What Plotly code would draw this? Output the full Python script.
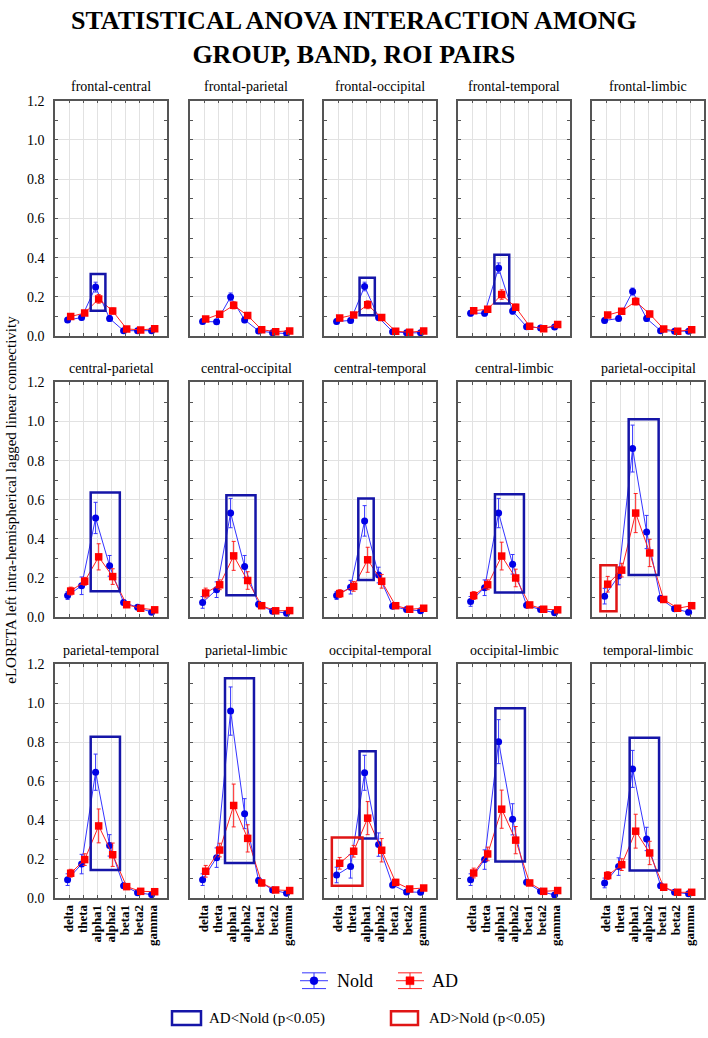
import plotly.graph_objects as go

W, H = 708, 1038

bands = ["delta", "theta", "alpha1", "alpha2", "beta1", "beta2", "gamma"]
pairs = ["frontal-central", "frontal-parietal", "frontal-occipital", "frontal-temporal", "frontal-limbic",
         "central-parietal", "central-occipital", "central-temporal", "central-limbic", "parietal-occipital",
         "parietal-temporal", "parietal-limbic", "occipital-temporal", "occipital-limbic", "temporal-limbic"]

nold_mean = [
    [0.082, 0.095, 0.250, 0.090, 0.028, 0.028, 0.028],
    [0.075, 0.073, 0.200, 0.083, 0.027, 0.018, 0.013],
    [0.075, 0.080, 0.253, 0.095, 0.023, 0.017, 0.017],
    [0.117, 0.117, 0.347, 0.128, 0.048, 0.042, 0.047],
    [0.080, 0.090, 0.227, 0.090, 0.028, 0.025, 0.025],
    [0.110, 0.160, 0.507, 0.262, 0.075, 0.050, 0.025],
    [0.075, 0.140, 0.532, 0.258, 0.065, 0.030, 0.020],
    [0.110, 0.153, 0.492, 0.215, 0.055, 0.038, 0.032],
    [0.080, 0.150, 0.532, 0.270, 0.060, 0.038, 0.022],
    [0.107, 0.210, 0.862, 0.435, 0.095, 0.042, 0.025],
    [0.094, 0.174, 0.646, 0.270, 0.063, 0.027, 0.017],
    [0.094, 0.207, 0.960, 0.433, 0.089, 0.041, 0.024],
    [0.118, 0.162, 0.643, 0.274, 0.067, 0.031, 0.029],
    [0.094, 0.197, 0.803, 0.404, 0.080, 0.034, 0.015],
    [0.077, 0.161, 0.663, 0.303, 0.063, 0.029, 0.021],
]
ad_mean = [
    [0.100, 0.118, 0.190, 0.128, 0.037, 0.032, 0.038],
    [0.087, 0.112, 0.157, 0.105, 0.033, 0.023, 0.027],
    [0.093, 0.108, 0.160, 0.095, 0.025, 0.020, 0.027],
    [0.130, 0.137, 0.212, 0.147, 0.050, 0.038, 0.060],
    [0.108, 0.127, 0.177, 0.113, 0.037, 0.025, 0.033],
    [0.133, 0.183, 0.308, 0.207, 0.063, 0.045, 0.037],
    [0.123, 0.165, 0.313, 0.187, 0.058, 0.032, 0.033],
    [0.120, 0.157, 0.293, 0.183, 0.058, 0.040, 0.045],
    [0.110, 0.165, 0.312, 0.200, 0.062, 0.040, 0.037],
    [0.168, 0.240, 0.532, 0.328, 0.090, 0.045, 0.058],
    [0.127, 0.197, 0.370, 0.222, 0.058, 0.034, 0.032],
    [0.137, 0.246, 0.475, 0.306, 0.077, 0.041, 0.038],
    [0.178, 0.240, 0.410, 0.245, 0.080, 0.046, 0.051],
    [0.128, 0.226, 0.456, 0.297, 0.077, 0.034, 0.038],
    [0.115, 0.171, 0.343, 0.231, 0.055, 0.029, 0.029],
]
nold_err = [
    [0.012, 0.012, 0.025, 0.015, 0.008, 0.006, 0.006],
    [0.012, 0.012, 0.020, 0.014, 0.007, 0.006, 0.006],
    [0.012, 0.012, 0.022, 0.014, 0.007, 0.006, 0.006],
    [0.014, 0.014, 0.026, 0.016, 0.008, 0.007, 0.007],
    [0.012, 0.012, 0.018, 0.014, 0.007, 0.006, 0.006],
    [0.020, 0.045, 0.080, 0.053, 0.012, 0.008, 0.008],
    [0.030, 0.040, 0.075, 0.057, 0.012, 0.008, 0.008],
    [0.020, 0.035, 0.078, 0.040, 0.010, 0.008, 0.008],
    [0.025, 0.040, 0.075, 0.050, 0.010, 0.008, 0.008],
    [0.040, 0.045, 0.120, 0.085, 0.015, 0.010, 0.010],
    [0.030, 0.050, 0.093, 0.055, 0.012, 0.008, 0.008],
    [0.030, 0.050, 0.124, 0.077, 0.015, 0.010, 0.010],
    [0.040, 0.060, 0.090, 0.060, 0.015, 0.010, 0.010],
    [0.030, 0.050, 0.113, 0.080, 0.012, 0.008, 0.008],
    [0.025, 0.045, 0.095, 0.060, 0.012, 0.008, 0.008],
]
ad_err = [
    [0.012, 0.012, 0.022, 0.015, 0.008, 0.006, 0.006],
    [0.012, 0.012, 0.018, 0.014, 0.007, 0.006, 0.006],
    [0.012, 0.012, 0.020, 0.014, 0.007, 0.006, 0.006],
    [0.014, 0.014, 0.024, 0.016, 0.008, 0.007, 0.007],
    [0.012, 0.012, 0.018, 0.014, 0.007, 0.006, 0.006],
    [0.020, 0.020, 0.067, 0.040, 0.012, 0.008, 0.008],
    [0.025, 0.025, 0.074, 0.045, 0.010, 0.008, 0.008],
    [0.020, 0.025, 0.064, 0.035, 0.010, 0.008, 0.008],
    [0.020, 0.025, 0.071, 0.045, 0.010, 0.008, 0.008],
    [0.040, 0.035, 0.100, 0.070, 0.015, 0.010, 0.010],
    [0.020, 0.030, 0.087, 0.060, 0.012, 0.008, 0.008],
    [0.030, 0.035, 0.110, 0.070, 0.015, 0.010, 0.010],
    [0.030, 0.030, 0.085, 0.060, 0.015, 0.010, 0.010],
    [0.025, 0.035, 0.098, 0.070, 0.012, 0.008, 0.008],
    [0.020, 0.030, 0.087, 0.060, 0.012, 0.008, 0.008],
]

# significance boxes: (panel, type, band_from, band_to, value_low, value_high)
sig_boxes = [
    (0, "lt", 1.55, 2.60, 0.130, 0.317),
    (2, "lt", 1.54, 2.63, 0.107, 0.298),
    (3, "lt", 1.60, 2.66, 0.167, 0.415),
    (5, "lt", 1.55, 3.63, 0.132, 0.637),
    (6, "lt", 1.60, 3.68, 0.112, 0.623),
    (7, "lt", 1.45, 2.55, 0.190, 0.607),
    (8, "lt", 1.64, 3.71, 0.125, 0.628),
    (9, "lt", 1.62, 3.76, 0.215, 1.012),
    (9, "gt", -0.40, 0.75, 0.030, 0.265),
    (10, "lt", 1.55, 3.64, 0.144, 0.828),
    (11, "lt", 1.50, 3.57, 0.180, 1.128),
    (12, "lt", 1.54, 2.69, 0.305, 0.753),
    (12, "gt", -0.44, 1.75, 0.063, 0.311),
    (13, "lt", 1.67, 3.78, 0.187, 0.975),
    (14, "lt", 1.69, 3.79, 0.141, 0.823),
]

groups = ["Nold", "AD"]
legend_boxes = ["AD<Nold (p<0.05)", "AD>Nold (p<0.05)"]

SERIF = "Liberation Serif"
BLUE_LINE = "#3535ff"
BLUE_MK = "#0000e6"
RED_LINE = "#ff2020"
RED_MK = "#ff0000"
BOX_BLUE = "#1515a8"
BOX_RED = "#e01515"
FRAME = "#555555"
GRID = "#e2e2e2"

col_px = [(55, 167), (190, 302), (324, 436), (458, 570), (592, 704)]
row_px = [(95, 334), (381, 619), (667, 904)]


def px(x):
    return x / W


def py(y):
    return 1 - y / H


fig = go.Figure()
layout = {}
shapes = []
annotations = []

for k in range(15):
    r, c = divmod(k, 5)
    xn = "x" if k == 0 else f"x{k+1}"
    yn = "y" if k == 0 else f"y{k+1}"
    xk = "xaxis" if k == 0 else f"xaxis{k+1}"
    yk = "yaxis" if k == 0 else f"yaxis{k+1}"
    x0, x1 = col_px[c]
    yt, yb = row_px[r]
    layout[xk] = dict(
        domain=[px(x0), px(x1)], anchor=yn, range=[-1, 7],
        tickvals=list(range(7)), ticktext=[f"<b>{b}</b>" for b in bands],
        showticklabels=(r == 2),
        tickangle=-90, ticks="inside", ticklen=3, tickcolor=FRAME,
        showgrid=True, gridcolor=GRID, gridwidth=1,
        showline=True, linecolor=FRAME, linewidth=1.5, mirror="allticks",
        zeroline=False,
        tickfont=dict(family=SERIF, size=13, color="black"),
    )
    layout[yk] = dict(
        domain=[py(yb), py(yt)], anchor=xn, range=[0, 1.2],
        tickvals=[0, 0.2, 0.4, 0.6, 0.8, 1.0, 1.2], tickformat=".1f",
        showticklabels=(c == 0), ticks="inside", ticklen=3, tickcolor=FRAME,
        minor=dict(dtick=0.1, ticks="inside", ticklen=3, tickcolor=FRAME, showgrid=False),
        showgrid=True, gridcolor=GRID, gridwidth=1,
        showline=True, linecolor=FRAME, linewidth=1.5, mirror="allticks",
        zeroline=False, ticklabelstandoff=6,
        tickfont=dict(family=SERIF, size=14, color="black"),
    )
    xs = list(range(7))
    fig.add_trace(go.Scatter(
        x=[i - 0.1 for i in xs], y=nold_mean[k], xaxis=xn, yaxis=yn,
        mode="lines+markers", showlegend=False, name=groups[0],
        line=dict(color=BLUE_LINE, width=1),
        marker=dict(symbol="circle", size=7, color=BLUE_MK),
        error_y=dict(type="data", array=nold_err[k], color=BLUE_LINE, thickness=1, width=2),
    ))
    fig.add_trace(go.Scatter(
        x=[i + 0.12 for i in xs], y=ad_mean[k], xaxis=xn, yaxis=yn,
        mode="lines+markers", showlegend=False, name=groups[1],
        line=dict(color=RED_LINE, width=1),
        marker=dict(symbol="square", size=7.5, color=RED_MK),
        error_y=dict(type="data", array=ad_err[k], color=RED_LINE, thickness=1, width=2),
    ))
    annotations.append(dict(
        text=pairs[k], x=px((x0 + x1) / 2), y=py(yt - 14), xref="paper", yref="paper",
        showarrow=False, xanchor="center", yanchor="middle",
        font=dict(family=SERIF, size=14, color="black"),
    ))

for (k, kind, b0, b1, v0, v1) in sig_boxes:
    xn = "x" if k == 0 else f"x{k+1}"
    yn = "y" if k == 0 else f"y{k+1}"
    shapes.append(dict(
        type="rect", xref=xn, yref=yn, x0=b0, x1=b1, y0=v0, y1=v1,
        line=dict(color=BOX_BLUE if kind == "lt" else BOX_RED, width=2.5),
        fillcolor="rgba(0,0,0,0)", layer="above",
    ))

# title
annotations.append(dict(
    text="<b>STATISTICAL ANOVA INTERACTION AMONG<br>GROUP, BAND, ROI PAIRS</b>",
    x=0.5, y=py(31), xref="paper", yref="paper", showarrow=False,
    xanchor="center", yanchor="middle", align="center",
    font=dict(family=SERIF, size=26, color="black"),
))
# y axis title
annotations.append(dict(
    text="eLORETA left intra-hemispherical lagged linear connectivity",
    x=px(11), y=py(500), xref="paper", yref="paper", showarrow=False,
    textangle=-90, xanchor="center", yanchor="middle",
    font=dict(family=SERIF, size=15, color="black"),
))

# legend: group symbols
leg_y = 988
for cx, lc, mc, sym, label, tx in [(314, BLUE_LINE, BLUE_MK, "circle", groups[0], 335),
                                   (410, RED_LINE, RED_MK, "square", groups[1], 430)]:
    shapes.append(dict(type="line", xref="paper", yref="paper", x0=px(cx - 14), x1=px(cx + 14),
                       y0=py(leg_y), y1=py(leg_y), line=dict(color=lc, width=1)))
    shapes.append(dict(type="line", xref="paper", yref="paper", x0=px(cx), x1=px(cx),
                       y0=py(leg_y - 8), y1=py(leg_y + 8), line=dict(color=lc, width=1)))
    for dy in (-8, 8):
        shapes.append(dict(type="line", xref="paper", yref="paper", x0=px(cx - 12), x1=px(cx + 12),
                           y0=py(leg_y + dy), y1=py(leg_y + dy), line=dict(color=lc, width=1)))
    shapes.append(dict(type="circle" if sym == "circle" else "rect", xref="paper", yref="paper",
                       x0=px(cx - 4), x1=px(cx + 4), y0=py(leg_y + 4), y1=py(leg_y - 4),
                       fillcolor=mc, line=dict(color=mc, width=0.5)))
    annotations.append(dict(text=label, x=px(tx), y=py(leg_y), xref="paper", yref="paper",
                            showarrow=False, xanchor="left", yanchor="middle",
                            font=dict(family=SERIF, size=18, color="black")))

# legend: box types
for (bx0, bx1, col, label, tx) in [(172, 201, BOX_BLUE, legend_boxes[0], 207),
                                    (391, 418, BOX_RED, legend_boxes[1], 427)]:
    shapes.append(dict(type="rect", xref="paper", yref="paper", x0=px(bx0), x1=px(bx1),
                       y0=py(1033), y1=py(1019), line=dict(color=col, width=2.5),
                       fillcolor="rgba(0,0,0,0)"))
    annotations.append(dict(text=label, x=px(tx), y=py(1026), xref="paper", yref="paper",
                            showarrow=False, xanchor="left", yanchor="middle",
                            font=dict(family=SERIF, size=15, color="black")))

fig.update_layout(
    width=W, height=H, margin=dict(l=0, r=0, t=0, b=0),
    paper_bgcolor="white", plot_bgcolor="white",
    shapes=shapes, annotations=annotations, showlegend=False,
    **layout,
)

fig.write_html("out.html", config={"displayModeBar": False},
               post_script="document.body.style.margin='0';document.body.style.overflow='hidden';")
